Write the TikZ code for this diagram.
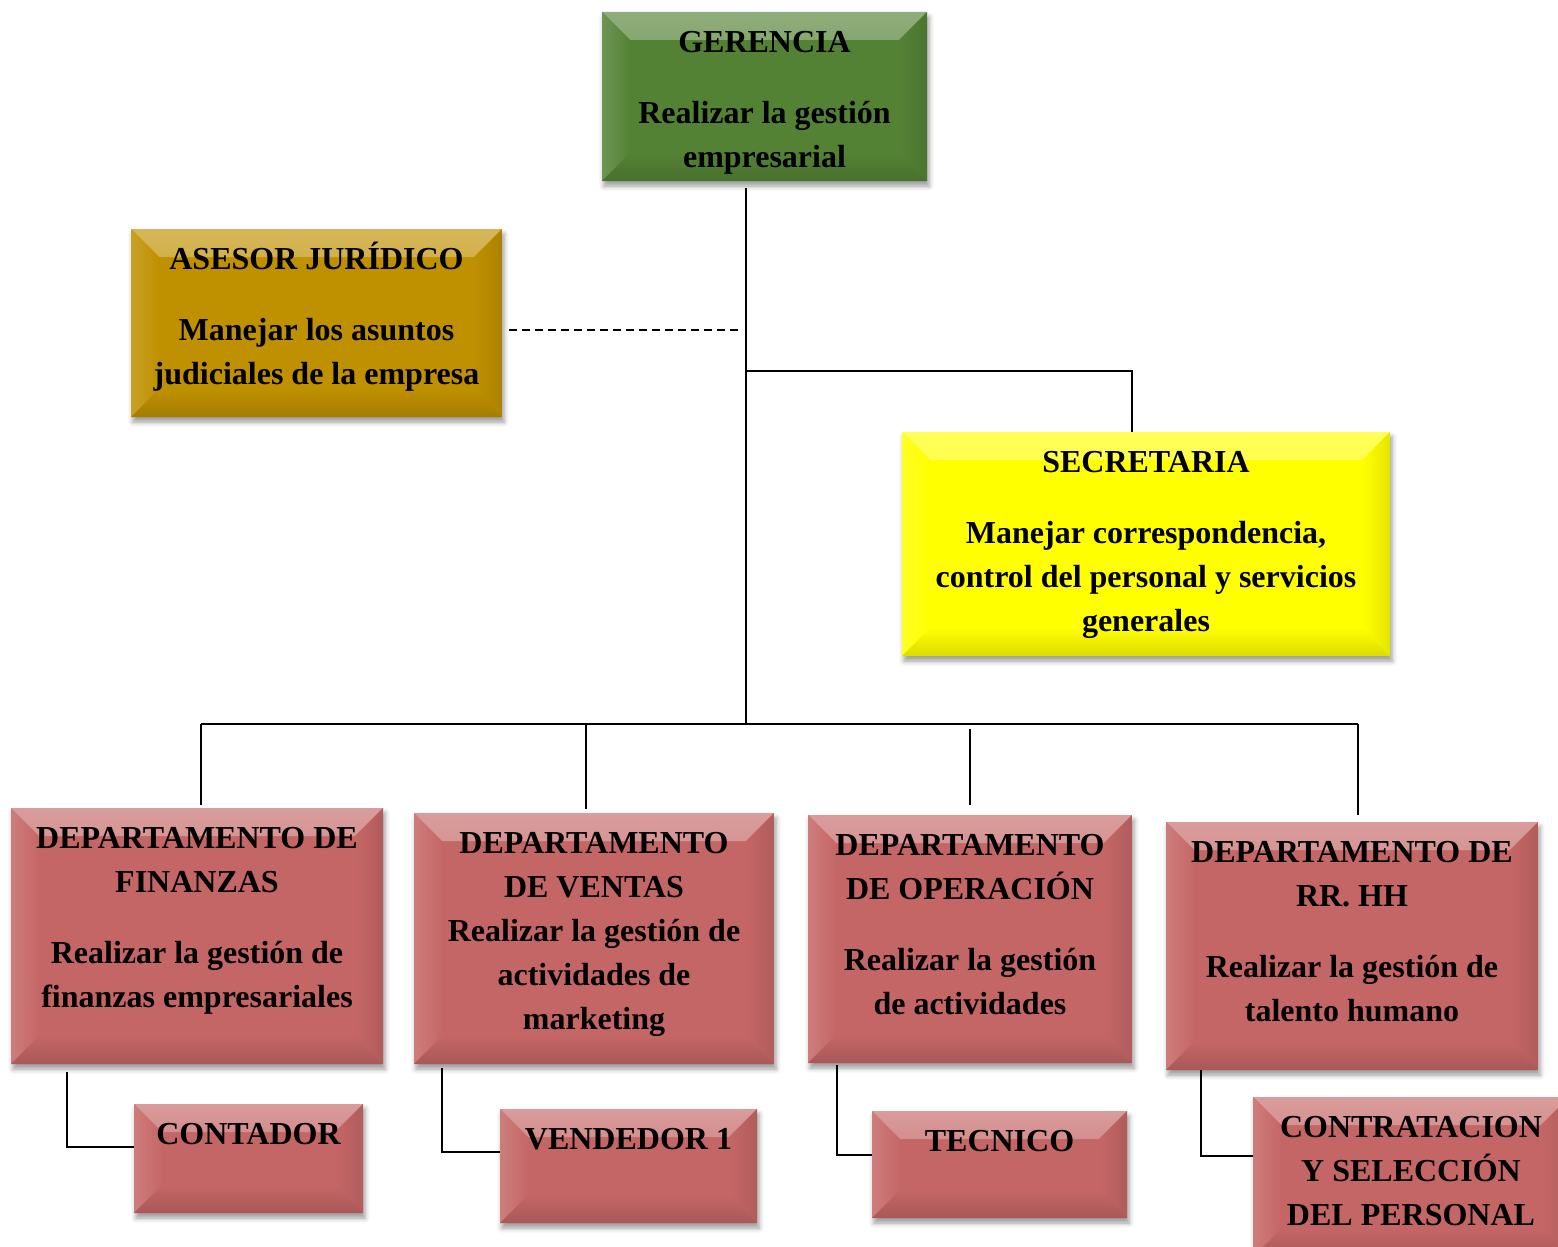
\documentclass[tikz,border=0pt]{standalone}
\usepackage{fontspec}
\setmainfont{Liberation Serif}
\usetikzlibrary{positioning, shadows, shadows.blur}

\definecolor{verdeGer}{RGB}{84,130,53}
\definecolor{oroAses}{RGB}{191,144,0}
\definecolor{amarSec}{RGB}{255,255,0}
\definecolor{rojoDep}{RGB}{197,102,102}

\tikzset{
  bevel/.style={fill=#1, draw=none, inner sep=0pt,
    blur shadow={shadow xshift=1pt, shadow yshift=-2.5pt, shadow blur radius=2.5pt, shadow opacity=40},
    path picture={
      \shade[top color=#1!65!white, bottom color=#1]
        (path picture bounding box.north west) -- (path picture bounding box.north east)
        -- ([shift={(-14pt,-14pt)}]path picture bounding box.north east)
        -- ([shift={(14pt,-14pt)}]path picture bounding box.north west) -- cycle;
      \shade[left color=#1!85!white, right color=#1]
        (path picture bounding box.north west) -- ([shift={(14pt,-14pt)}]path picture bounding box.north west)
        -- ([shift={(14pt,14pt)}]path picture bounding box.south west) -- (path picture bounding box.south west) -- cycle;
      \shade[left color=#1, right color=#1!90!black]
        (path picture bounding box.north east) -- ([shift={(-14pt,-14pt)}]path picture bounding box.north east)
        -- ([shift={(-14pt,14pt)}]path picture bounding box.south east) -- (path picture bounding box.south east) -- cycle;
      \shade[top color=#1, bottom color=#1!86!black]
        (path picture bounding box.south west) -- ([shift={(14pt,14pt)}]path picture bounding box.south west)
        -- ([shift={(-14pt,14pt)}]path picture bounding box.south east) -- (path picture bounding box.south east) -- cycle;
    }},
  boxtext/.style={align=center, inner sep=0pt, font=\fontsize{16pt}{22pt}\selectfont\bfseries},
  orgline/.style={line width=1.2pt},
}

\begin{document}
\begin{tikzpicture}[x=0.5pt, y=-0.5pt]
  \path[use as bounding box] (0,0) rectangle (1558,1247);
  \clip (0,0) rectangle (1558,1247);

  % cajas
  \node[bevel=verdeGer, minimum width=162.5pt, minimum height=84.5pt] (ger) at (764.5,96.5) {};
  \node[bevel=oroAses, minimum width=185.5pt, minimum height=94pt] (ases) at (316.5,323) {};
  \node[bevel=amarSec, minimum width=244pt, minimum height=112pt] (sec) at (1146,544) {};
  \node[bevel=rojoDep, minimum width=186pt, minimum height=128pt] (fin) at (197,936) {};
  \node[bevel=rojoDep, minimum width=180pt, minimum height=125.5pt] (ven) at (594,938.5) {};
  \node[bevel=rojoDep, minimum width=162pt, minimum height=124pt] (ope) at (970,939) {};
  \node[bevel=rojoDep, minimum width=186pt, minimum height=124pt] (rrhh) at (1352,946) {};
  \node[bevel=rojoDep, minimum width=114.5pt, minimum height=54.5pt] (cont) at (248.5,1158.5) {};
  \node[bevel=rojoDep, minimum width=128.5pt, minimum height=57pt] (vend) at (628.5,1166) {};
  \node[bevel=rojoDep, minimum width=127.5pt, minimum height=53.5pt] (tec) at (999.5,1164.5) {};
  \node[bevel=rojoDep, minimum width=158pt, minimum height=80pt] (contr) at (1411,1177) {};

  % textos
  \node[boxtext, below=5pt of ger.north] (gerT) {\strut GERENCIA\\[13.5pt]Realizar la gestión\\empresarial};
  \node[boxtext, below=5pt of ases.north] (asesT) {\strut ASESOR JURÍDICO\\[13.5pt]Manejar los asuntos\\judiciales de la empresa};
  \node[boxtext, below=5pt of sec.north] (secT) {\strut SECRETARIA\\[13.5pt]Manejar correspondencia,\\control del personal y servicios\\generales};
  \node[boxtext, below=5pt of fin.north] (finT) {\strut DEPARTAMENTO DE\\FINANZAS\\[13.5pt]Realizar la gestión de\\finanzas empresariales};
  \node[boxtext, below=5pt of ven.north] (venT) {\strut DEPARTAMENTO\\DE VENTAS\\Realizar la gestión de\\actividades de\\marketing};
  \node[boxtext, below=5pt of ope.north] (opeT) {\strut DEPARTAMENTO\\DE OPERACIÓN\\[13.5pt]Realizar la gestión\\de actividades};
  \node[boxtext, below=5pt of rrhh.north] (rrhhT) {\strut DEPARTAMENTO DE\\RR. HH\\[13.5pt]Realizar la gestión de\\talento humano};
  \node[boxtext, below=5pt of cont.north] (contT) {\strut CONTADOR};
  \node[boxtext, below=5pt of vend.north] (vendT) {\strut VENDEDOR 1};
  \node[boxtext, below=5pt of tec.north] (tecT) {\strut TECNICO};
  \node[boxtext, below=5pt of contr.north] (contrT) {\strut CONTRATACION\\Y SELECCIÓN\\DEL PERSONAL};

  % conectores
  \coordinate (jDash) at (738,330);
  \coordinate (jSec) at (746,371);
  \coordinate (jBus) at (746,724);

  \draw[orgline, shorten <=3.5pt] (ger.south -| jBus) -- (jBus);
  \draw[line width=0.8pt, dash pattern=on 4pt off 2.5pt, shorten <=3.5pt] (ases.east |- jDash) -- (jDash);
  \draw[orgline] (jSec) -| ([xshift=-7pt]sec.north);

  \draw[orgline] ([xshift=2pt]fin.north |- jBus) -- ([xshift=3pt]rrhh.north |- jBus);
  \draw[orgline, shorten >=1.5pt] ([xshift=2pt]fin.north |- jBus) -- ([xshift=2pt]fin.north);
  \draw[orgline, shorten >=2pt] ([xshift=-4pt]ven.north |- jBus) -- ([xshift=-4pt]ven.north);
  \draw[orgline, shorten <=2.5pt, shorten >=5pt] (ope.north |- jBus) -- (ope.north);
  \draw[orgline, shorten >=3.5pt] ([xshift=3pt]rrhh.north |- jBus) -- ([xshift=3pt]rrhh.north);

  \draw[orgline] ([xshift=-65pt,yshift=-4pt]fin.south) |- ([yshift=5.75pt]cont.west);
  \draw[orgline] ([xshift=-76pt,yshift=-2pt]ven.south) |- ([yshift=7pt]vend.west);
  \draw[orgline] ([xshift=-66.5pt,yshift=-1pt]ope.south) |- ([yshift=4.75pt]tec.west);
  \draw[orgline] ([xshift=-75.5pt]rrhh.south) |- ([yshift=10.5pt]contr.west);
\end{tikzpicture}
\end{document}
